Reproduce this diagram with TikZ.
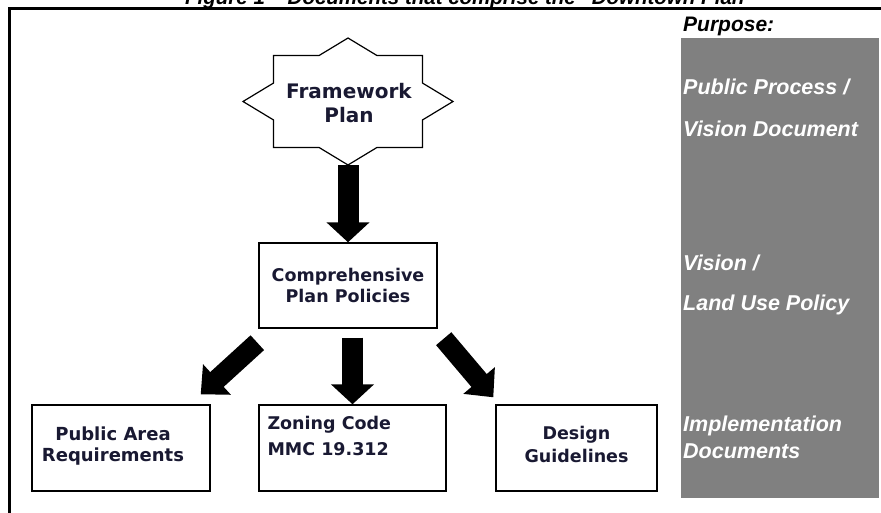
\documentclass[tikz,border=0pt]{standalone}
\usepackage{fontspec}
\setmainfont{Liberation Sans}
\newfontfamily\boxfont{DejaVu Sans}
\usetikzlibrary{arrows.meta,calc}
\definecolor{navytext}{RGB}{25,25,50}
\definecolor{panelgray}{RGB}{128,128,128}
\begin{document}
\begin{tikzpicture}[x=1pt,y=-1pt,
  box/.style={draw=black, line width=1.4pt, fill=white, inner sep=0pt, align=center,
    text=navytext, font=\boxfont\bfseries\fontsize{17.5}{21}\selectfont},
  boxtext/.style={inner sep=0pt, align=center, text=navytext},
  starline/.style={draw=black, line width=1.2pt, fill=white},
  bigarrow/.style={draw=black, line width=21pt, -{Triangle[length=20pt,width=42pt]}},
  paneltext/.style={anchor=base west, inner sep=0pt, text=white,
    font=\bfseries\itshape\fontsize{21.5}{26}\selectfont},
]
\useasboundingbox (0,0) rectangle (881,513);
% title (cut off at the top)
\node[anchor=base west, inner sep=0pt, font=\bfseries\itshape\fontsize{20.5}{24}\selectfont] (title)
  at (185,5) {Figure 1 – Documents that comprise the “Downtown Plan”};
% frame
\draw[line width=3pt] (9,513) -- (9,9) -- (881,9);
% purpose panel
\node[anchor=base west, inner sep=0pt, font=\bfseries\itshape\fontsize{21}{25}\selectfont] (purpose)
  at (683,32) {Purpose:};
\fill[panelgray] (681,38) rectangle (879,498);
\node[paneltext] (p1) at (683,95) {Public Process /};
\node[paneltext] (p2) at (683,137) {Vision Document};
\node[paneltext] (p3) at (683,270) {Vision /};
\node[paneltext] (p4) at (683,310) {Land Use Policy};
\node[paneltext] (p5) at (683,431) {Implementation};
\node[paneltext] (p6) at (683,458) {Documents};
% framework star
\draw[starline, shift={(348,101.5)}]
  (0,-63.5) -- (28.9,-46) -- (74.5,-46) -- (74.5,-18.45) -- (105,0) -- (74.5,18.45)
  -- (74.5,46) -- (28.9,46) -- (0,63.5) -- (-28.9,46) -- (-74.5,46) -- (-74.5,18.45)
  -- (-105,0) -- (-74.5,-18.45) -- (-74.5,-46) -- (-28.9,-46) -- cycle;
\node[inner sep=0pt, minimum width=210pt, minimum height=127pt] (fw) at (348,101.5) {};
\node[boxtext, font=\boxfont\bfseries\fontsize{20}{24}\selectfont] (fwtext)
  at ($(fw.center)+(1,2)$) {Framework\\Plan};
% boxes
\node[box, minimum width=178pt, minimum height=85pt] (cpp) at (348,285.5)
  {Comprehensive\\Plan Policies};
\node[box, minimum width=178pt, minimum height=86pt] (pub) at (121,448) {};
\node[boxtext, font=\boxfont\bfseries\fontsize{18}{21}\selectfont] (pubtext)
  at ($(pub.center)+(-8,-2)$) {Public Area\\Requirements};
\node[box, minimum width=187pt, minimum height=86pt] (zon) at (352.5,448) {};
\node[anchor=north west, inner sep=0pt, align=left, text=navytext,
  font=\boxfont\bfseries\fontsize{17.5}{26}\selectfont] (zontext)
  at ($(zon.north west)+(9,12)$) {Zoning Code\\MMC 19.312};
\node[box, minimum width=161pt, minimum height=86pt] (des) at (576.5,448) {};
\node[boxtext, font=\boxfont\bfseries\fontsize{17.5}{23}\selectfont] (destext)
  at ($(des.center)+(0,-4)$) {Design\\Guidelines};
% block arrows
\draw[bigarrow] (fw.south) -- (cpp.north);
\draw[bigarrow] ($(cpp.south -| zon.north)+(0,9)$) -- (zon.north);
\draw[bigarrow, line width=20pt, -{Triangle[length=22pt,width=40pt]}]
  ($(cpp.south west)+(-1,14)$) -- ($(pub.north east)+(-10,-10)$);
\draw[bigarrow, line width=20pt, -{Triangle[length=22pt,width=40pt]}]
  ($(cpp.south east)+(6,10)$) -- ($(des.north west)+(-2,-7)$);
\end{tikzpicture}
\end{document}
